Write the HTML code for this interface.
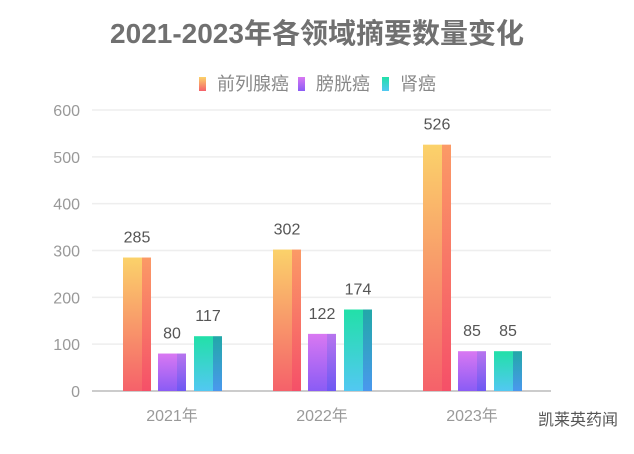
<!DOCTYPE html>
<html><head><meta charset="utf-8"><style>
body{margin:0;background:#fff;width:634px;height:449px;overflow:hidden;font-family:"Liberation Sans","Noto Sans CJK SC",sans-serif}
</style></head><body>
<svg width="634" height="449">
<defs>
<linearGradient id="g0" x1="0" y1="0" x2="0" y2="1"><stop offset="0" stop-color="#fbd26a"/><stop offset="1" stop-color="#f5616a"/></linearGradient>
<linearGradient id="s0" x1="0" y1="0" x2="0" y2="1"><stop offset="0" stop-color="#fb9a66"/><stop offset="1" stop-color="#f55068"/></linearGradient>
<linearGradient id="g1" x1="0" y1="0" x2="0" y2="1"><stop offset="0" stop-color="#d978f2"/><stop offset="1" stop-color="#8a5cf5"/></linearGradient>
<linearGradient id="s1" x1="0" y1="0" x2="0" y2="1"><stop offset="0" stop-color="#b774ee"/><stop offset="1" stop-color="#6d58f3"/></linearGradient>
<linearGradient id="g2" x1="0" y1="0" x2="0" y2="1"><stop offset="0" stop-color="#22e0a8"/><stop offset="1" stop-color="#52c8f2"/></linearGradient>
<linearGradient id="s2" x1="0" y1="0" x2="0" y2="1"><stop offset="0" stop-color="#22a8a8"/><stop offset="1" stop-color="#4a98ee"/></linearGradient>
</defs>
<text x="317" y="43" text-anchor="middle" font-size="28" font-weight="bold" fill="#707070">2021-2023年各领域摘要数量变化</text>
<g id="legend"></g>
<g id="grid"></g>
<g id="bars"></g>
<g id="xl"></g>
<text x="538" y="425" font-size="16" fill="#555">凯莱英药闻</text>
</svg>
<script>
const categories=["2021年","2022年","2023年"];
const seriesNames=["前列腺癌","膀胱癌","肾癌"];
const prostate=[285,302,526];
const bladder=[80,122,85];
const kidney=[117,174,85];
const yTicks=[0,100,200,300,400,500,600];
const NS="http://www.w3.org/2000/svg";
function mk(t,a,p){const e=document.createElementNS(NS,t);for(const k in a)e.setAttribute(k,a[k]);p.appendChild(e);return e;}
const y=v=>391-v*(281/600);
const x=i=>172+i*150;
const grid=document.getElementById('grid');
yTicks.forEach(t=>{
 const l=mk('line',{x1:92,x2:551,y1:y(t),y2:y(t),stroke:t===0?'#ccc':'#eee','stroke-width':t===0?2:1.5},grid);
 
 
 const tx=mk('text',{x:80,y:y(t)+6,'text-anchor':'end','font-size':16,fill:'#999'},grid);
 tx.textContent=t;
 
 
});
const xl=document.getElementById('xl');
categories.forEach((c,i)=>{
 const t=mk('text',{x:x(i),y:421,'text-anchor':'middle','font-size':16,fill:'#999'},xl);
 t.textContent=c;
 
 
});
const series=[prostate,bladder,kidney];
const offs=[-35,0,36];
const bars=document.getElementById('bars');
series.forEach((s,si)=>{
 s.forEach((v,i)=>{
  const cx=x(i)+offs[si], x0=cx-14, top=y(v);
  const g=mk('g',{},bars);
  
  
  mk('rect',{x:x0,y:top,width:19,height:391-top,fill:'url(#g'+si+')'},g);
  mk('rect',{x:x0+19,y:top,width:9,height:391-top,fill:'url(#s'+si+')'},g);
  const t=mk('text',{x:cx,y:top-15,'text-anchor':'middle','font-size':16,fill:'#555'},bars);
  t.textContent=v;
  
  
 });
});
const lg=document.getElementById('legend');
const lx=[199,298,382];
seriesNames.forEach((n,i)=>{
 const g=mk('g',{},lg);
 
 
 mk('rect',{x:lx[i],y:77,width:7,height:14,fill:'url(#g'+i+')'},g);
 const t=mk('text',{x:lx[i]+18,y:90,'font-size':18,fill:'#888'},g);
 t.textContent=n;
});
</script>
</body></html>
